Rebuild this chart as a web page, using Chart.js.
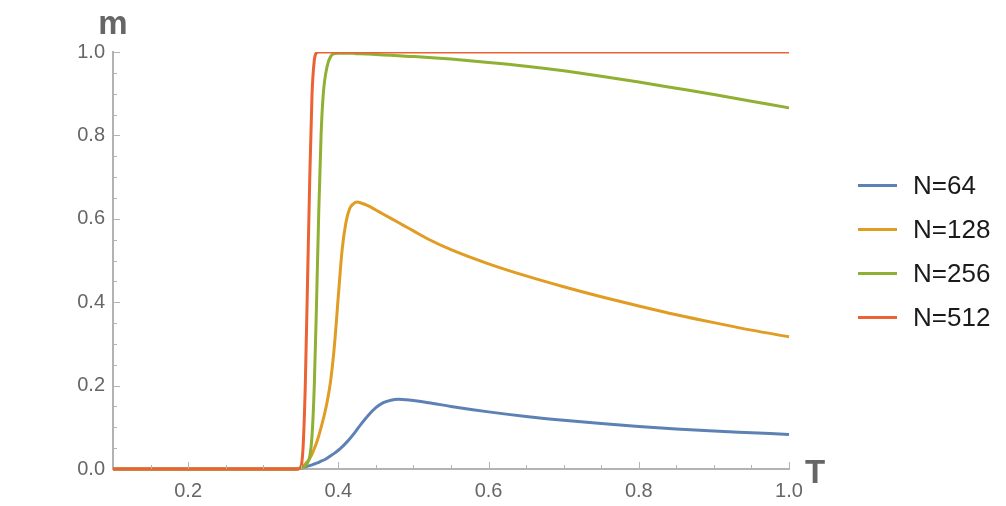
<!DOCTYPE html>
<html>
<head>
<meta charset="utf-8">
<script src="https://cdn.jsdelivr.net/npm/chart.js@4.4.1/dist/chart.umd.min.js"></script>
<style>
  body { margin: 0; background: #fff; }
  #wrap { position: relative; width: 1006px; height: 506px; }
  #legend {
    position: absolute; left: 858px; top: 163px;
    font-family: "Liberation Sans", Arial, sans-serif; font-size: 26px; color: #1a1a1a;
  }
  .item { display: flex; align-items: center; height: 44px; }
  .swatch { width: 39px; height: 3px; margin-right: 16px; }
</style>
</head>
<body>
<div id="wrap">
  <canvas id="chart" width="1006" height="506"></canvas>
  <div id="legend"></div>
</div>
<script>
// temperature samples (denser around the transition)
const temps = [0.1, 0.3, 0.345, 0.35, 0.353, 0.356, 0.359, 0.362, 0.365, 0.368, 0.371, 0.374, 0.377, 0.38,
  0.385, 0.39, 0.395, 0.4, 0.405, 0.41, 0.415, 0.42, 0.425, 0.43, 0.44, 0.45, 0.46, 0.47, 0.48, 0.49,
  0.5, 0.52, 0.55, 0.6, 0.65, 0.7, 0.75, 0.8, 0.85, 0.9, 0.95, 1.0];

const m64 = [0, 0, 0, 0.002, 0.004, 0.005, 0.007, 0.008, 0.010, 0.012, 0.014, 0.016, 0.019, 0.021,
  0.026, 0.032, 0.038, 0.045, 0.053, 0.062, 0.072, 0.083, 0.095, 0.107, 0.129, 0.147, 0.159, 0.165, 0.167, 0.166,
  0.164, 0.159, 0.150, 0.137, 0.126, 0.117, 0.109, 0.102, 0.096, 0.091, 0.087, 0.083];

const m128 = [0, 0, 0, 0.003, 0.007, 0.012, 0.018, 0.026, 0.036, 0.049, 0.063, 0.08, 0.099, 0.12,
  0.16, 0.215, 0.3, 0.415, 0.525, 0.59, 0.624, 0.636, 0.64, 0.638, 0.631, 0.621, 0.611, 0.601, 0.591, 0.581,
  0.571, 0.551, 0.526, 0.492, 0.463, 0.437, 0.413, 0.391, 0.37, 0.351, 0.333, 0.317];

const m256 = [0, 0, 0, 0.002, 0.004, 0.008, 0.015, 0.03, 0.08, 0.2, 0.4, 0.62, 0.8, 0.9,
  0.965, 0.99, 0.996, 0.997, 0.997, 0.997, 0.997, 0.997, 0.996, 0.996, 0.995, 0.994, 0.993, 0.992, 0.991, 0.99,
  0.989, 0.987, 0.983, 0.975, 0.966, 0.955, 0.942, 0.928, 0.913, 0.898, 0.882, 0.866];

const m512 = [0, 0, 0, 0.005, 0.05, 0.2, 0.45, 0.7, 0.9, 0.98, 0.998, 1, 1, 1,
  1, 1, 1, 1, 1, 1, 1, 1, 1, 1, 1, 1, 1, 1, 1, 1,
  1, 1, 1, 1, 1, 1, 1, 1, 1, 1, 1, 1];

const seriesNames = ['N=64', 'N=128', 'N=256', 'N=512'];
const seriesColors = ['#5e81b5', '#e19c24', '#8fb032', '#eb6235'];
const xTickLabels = [0.2, 0.4, 0.6, 0.8, 1.0];
const yTickLabels = [0.0, 0.2, 0.4, 0.6, 0.8, 1.0];

const FONT = '"Liberation Sans", Arial, sans-serif';
const AXIS_GRAY = '#b3b3b3';

function pts(vals) {
  return temps.map((t, i) => ({ x: t, y: vals[i] }));
}

function isLabelled(v, list) {
  return list.some(l => Math.abs(l - v) < 1e-6);
}

// Mathematica style inner ticks + axis labels
const axisExtras = {
  id: 'axisExtras',
  afterDraw(chart) {
    const ctx = chart.ctx;
    const xs = chart.scales.x, ys = chart.scales.y;
    const area = chart.chartArea;
    ctx.save();
    ctx.strokeStyle = AXIS_GRAY;
    ctx.lineWidth = 1;
    ctx.beginPath();
    xs.ticks.forEach(t => {
      const px = Math.round(xs.getPixelForValue(t.value)) + 0.5;
      if (px - area.left < 2) return;
      const len = isLabelled(t.value, xTickLabels) ? 7 : 4;
      ctx.moveTo(px, area.bottom);
      ctx.lineTo(px, area.bottom - len);
    });
    ys.ticks.forEach(t => {
      const py = Math.round(ys.getPixelForValue(t.value)) + 0.5;
      if (area.bottom - py < 2) return;
      const len = isLabelled(t.value, yTickLabels) ? 7 : 4;
      ctx.moveTo(area.left, py);
      ctx.lineTo(area.left + len, py);
    });
    ctx.stroke();

    ctx.fillStyle = '#666';
    ctx.font = 'bold 33px ' + FONT;
    ctx.textAlign = 'center';
    ctx.textBaseline = 'alphabetic';
    ctx.fillText('m', area.left, 34);
    ctx.textAlign = 'left';
    ctx.fillText('T', area.right + 16, area.bottom + 14);
    ctx.restore();
  }
};

const ctx = document.getElementById('chart').getContext('2d');
const chart = new Chart(ctx, {
  type: 'line',
  data: {
    datasets: [m64, m128, m256, m512].map((vals, i) => ({
      label: seriesNames[i],
      data: pts(vals),
      borderColor: seriesColors[i],
      backgroundColor: seriesColors[i],
      borderWidth: 3,
      pointRadius: 0,
      cubicInterpolationMode: 'monotone',
      clip: { left: 0, top: 0, right: 2, bottom: 3 },
      order: 3 - i
    }))
  },
  options: {
    responsive: false,
    animation: false,
    layout: { padding: { left: 0, top: 52, right: 217, bottom: 0 } },
    plugins: { legend: { display: false }, tooltip: { enabled: false } },
    scales: {
      x: {
        type: 'linear',
        min: 0.1,
        max: 1.0,
        afterFit: s => { s.height = 37; },
        border: { display: true, color: AXIS_GRAY, width: 2 },
        grid: { drawOnChartArea: false, drawTicks: false },
        ticks: {
          stepSize: 0.05,
          autoSkip: false,
          maxRotation: 0,
          padding: 10,
          color: '#666',
          font: { family: FONT, size: 20 },
          callback: v => isLabelled(v, xTickLabels) ? v.toFixed(1) : ''
        }
      },
      y: {
        min: 0,
        max: 1.0,
        afterFit: s => { s.width = 113; },
        border: { display: true, color: AXIS_GRAY, width: 2 },
        grid: { drawOnChartArea: false, drawTicks: false },
        ticks: {
          stepSize: 0.05,
          autoSkip: false,
          padding: 8,
          color: '#666',
          font: { family: FONT, size: 20 },
          callback: v => isLabelled(v, yTickLabels) ? v.toFixed(1) : ''
        }
      }
    }
  },
  plugins: [axisExtras]
});

// html legend from the datasets
const legendEl = document.getElementById('legend');
chart.data.datasets.forEach(ds => {
  const row = document.createElement('div');
  row.className = 'item';
  const sw = document.createElement('span');
  sw.className = 'swatch';
  sw.style.background = ds.borderColor;
  const txt = document.createElement('span');
  txt.textContent = ds.label;
  row.appendChild(sw);
  row.appendChild(txt);
  legendEl.appendChild(row);
});
</script>
</body>
</html>
